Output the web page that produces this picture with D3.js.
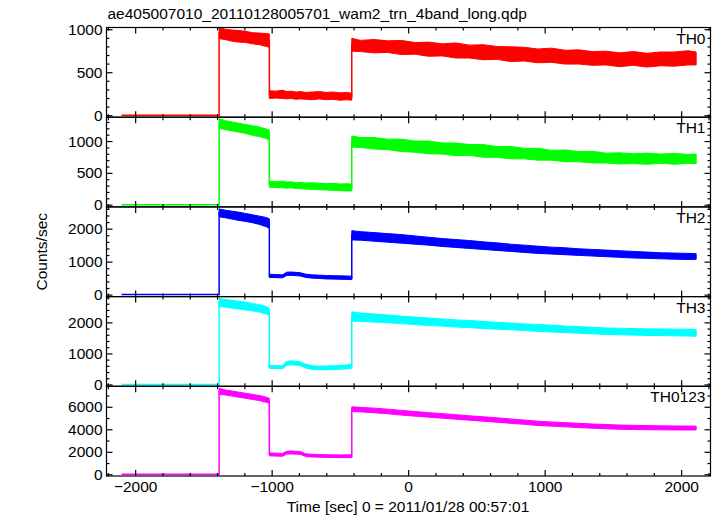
<!DOCTYPE html>
<html><head><meta charset="utf-8">
<script src="https://cdn.jsdelivr.net/npm/d3@7"></script>
<style>body{margin:0;background:#fff} svg{display:block} text{font-family:"Liberation Sans",Arial,Helvetica,sans-serif}</style>
</head><body><svg id="c" width="717" height="516"></svg>
<script>
const title = "ae405007010_20110128005701_wam2_trn_4band_long.qdp";
const xLabel = "Time [sec] 0 = 2011/01/28 00:57:01";
const yLabel = "Counts/sec";
const bandNames = ["TH0","TH1","TH2","TH3","TH0123"];
const bandColors = ["#ff0000","#00ff00","#0000ff","#00ffff","#ff00ff"];
const yDomains = [[-23,1020],[-35,1375],[-60,2660],[-60,2830],[-150,7820]];
const yMajorTicks = [[0,500,1000],[0,500,1000],[0,1000,2000],[0,1000,2000],[0,2000,4000,6000]];
const yMinorSteps = [100,100,200,200,1000];
const xDomain = [-2210, 2215];
const xMajorTicks = [-2000,-1000,0,1000,2000];
const xMinorStep = 200;

// time grid (s)
const tPre = [-2100, -1385];
const preLevel = [0, 0, 0, 0, 0];
const tA = [-1385,-1340,-1290,-1240,-1190,-1140,-1090,-1040,-1017];
const tB = [-1017,-970,-920,-890,-860,-820,-790,-750,-700,-650,-600,-550,-500,-450,-413];
const tC = [-413,-350,-250,-150,-50,50,150,250,350,450,550,650,750,850,950,1050,1150,1250,1350,1450,1550,1650,1750,1850,1950,2050,2110];

// band envelopes (upper / lower), segments A + B + C
const th0Hi = [1020,1000,990,985,975,960,955,950,945,
  285,280,290,275,280,270,275,265,270,275,265,270,260,265,255,
  895,870,880,865,870,845,850,830,840,815,820,800,795,790,770,780,755,760,740,745,725,740,720,735,735,750,735];
const th0Lo = [890,880,860,850,845,830,820,800,790,
  195,200,195,190,195,185,190,185,180,190,180,185,175,180,175,
  745,740,725,730,705,710,685,690,665,665,645,650,625,630,610,615,595,595,580,585,565,580,560,575,570,585,585];
const th1Hi = [1350,1320,1300,1280,1260,1240,1220,1190,1170,
  365,360,370,355,360,345,350,340,345,335,330,335,325,330,320,
  1080,1055,1055,1030,1030,1000,1000,970,970,945,945,915,915,885,885,855,860,835,840,810,815,800,810,795,805,790,795];
const th1Lo = [1200,1180,1160,1140,1120,1090,1070,1040,1015,
  275,270,265,260,265,255,250,245,240,235,230,225,220,215,215,
  905,900,875,865,835,825,800,795,770,775,745,745,720,720,700,700,675,675,655,655,640,645,635,650,635,650,645];
const th2Hi = [2600,2560,2530,2500,2460,2420,2380,2340,2300,
  615,610,600,680,685,675,665,620,600,590,580,575,570,565,560,
  1940,1910,1880,1850,1820,1780,1740,1700,1670,1640,1600,1570,1530,1500,1470,1440,1420,1390,1370,1350,1330,1310,1290,1270,1260,1250,1240];
const th2Lo = [2360,2330,2290,2250,2220,2180,2130,2060,2010,
  520,515,510,580,585,575,565,520,500,490,475,470,465,460,455,
  1660,1650,1620,1590,1560,1530,1500,1460,1430,1400,1370,1340,1310,1280,1250,1230,1210,1190,1170,1150,1130,1110,1100,1085,1075,1065,1070];
const th3Hi = [2770,2740,2710,2680,2650,2610,2570,2510,2450,
  620,610,600,740,760,745,730,650,600,590,595,600,610,630,650,
  2340,2300,2270,2240,2200,2170,2140,2110,2080,2060,2030,2000,1980,1950,1930,1910,1880,1860,1840,1820,1810,1800,1790,1790,1780,1780,1770];
const th3Lo = [2510,2490,2460,2430,2400,2370,2330,2270,2240,
  520,510,505,620,630,620,610,530,480,470,475,480,490,505,520,
  2040,2030,2010,1990,1960,1930,1900,1880,1850,1830,1800,1780,1760,1740,1710,1690,1670,1650,1630,1610,1600,1590,1580,1575,1565,1560,1550];
const th0123Hi = [7650,7500,7400,7300,7200,7100,7000,6850,6750,
  1900,1880,1860,2050,2070,2040,2020,1820,1780,1760,1740,1730,1720,1730,1720,
  6000,5950,5880,5790,5680,5580,5480,5390,5300,5200,5110,5020,4920,4820,4720,4650,4590,4530,4470,4420,4380,4350,4330,4310,4300,4290,4280];
const th0123Lo = [7100,7050,6950,6850,6750,6650,6550,6400,6320,
  1640,1620,1600,1800,1810,1790,1770,1580,1540,1520,1500,1490,1480,1480,1480,
  5580,5550,5470,5380,5260,5170,5080,4990,4900,4810,4720,4630,4530,4440,4340,4280,4220,4150,4100,4040,4000,3980,3960,3950,3940,3935,3940];

const hiArrays = [th0Hi, th1Hi, th2Hi, th3Hi, th0123Hi];
const loArrays = [th0Lo, th1Lo, th2Lo, th3Lo, th0123Lo];

const svg = d3.select("#c");
const L = 106.5, R = 710.5, T = 27.5, B = 476;
const ph = (B - T) / 5;
const x = d3.scaleLinear().domain(xDomain).range([L, R]);
const xMinor = d3.range(-2200, 2201, xMinorStep).filter(v => !xMajorTicks.includes(v));
const FS = 15.5;

svg.append("text").attr("x", L + 1).attr("y", 19).attr("font-size", FS).text(title);

bandNames.forEach((name, i) => {
  const top = T + i * ph, bot = top + ph;
  const y = d3.scaleLinear().domain(yDomains[i]).range([bot, top]);
  const color = bandColors[i];
  const hi = hiArrays[i], lo = loArrays[i];
  const g = svg.append("g");
  const cid = "clip" + i;
  svg.append("clipPath").attr("id", cid).append("rect")
    .attr("x", L).attr("y", top).attr("width", R - L).attr("height", ph);
  const pg = g.append("g").attr("clip-path", `url(#${cid})`);

  const segs = [[tA, 0], [tB, tA.length], [tC, tA.length + tB.length]];
  const area = d3.area().x(d => x(d.t)).y0(d => y(d.lo)).y1(d => y(d.hi));
  const mids = [];
  tPre.forEach(t => mids.push([t, preLevel[i]]));
  segs.forEach(([ts, off]) => {
    const data = ts.map((t, k) => ({t, hi: hi[off + k], lo: lo[off + k]}));
    pg.append("path").datum(data).attr("d", area)
      .attr("fill", color).attr("stroke", color).attr("stroke-width", 1).attr("stroke-linejoin", "miter");
    data.forEach(d => mids.push([d.t, (d.hi + d.lo) / 2]));
  });
  pg.append("path").datum(mids)
    .attr("d", d3.line().x(d => x(d[0])).y(d => y(d[1])))
    .attr("fill", "none").attr("stroke", color).attr("stroke-width", 1.5);

  // frame
  g.append("rect").attr("x", L).attr("y", top).attr("width", R - L).attr("height", ph)
    .attr("fill", "none").attr("stroke", "#000").attr("stroke-width", 1.2);

  const yMin = d3.range(Math.ceil(yDomains[i][0] / yMinorSteps[i]) * yMinorSteps[i], yDomains[i][1], yMinorSteps[i])
    .filter(v => !yMajorTicks[i].includes(v));

  const styleAxis = sel => {
    sel.select(".domain").remove();
    sel.selectAll("line").attr("stroke", "#000").attr("stroke-width", 1.2);
    sel.selectAll("text").attr("font-size", FS).attr("fill", "#000")
      .attr("font-family", '"Liberation Sans",Arial,sans-serif');
  };
  const showX = i === 4;
  g.append("g").attr("transform", `translate(0,${bot})`)
    .call(d3.axisBottom(x).tickValues(xMajorTicks).tickSize(-6).tickSizeOuter(0).tickPadding(5)
      .tickFormat(showX ? d3.format("d") : () => "")).call(styleAxis);
  g.append("g").attr("transform", `translate(0,${bot})`)
    .call(d3.axisBottom(x).tickValues(xMinor).tickSize(-3).tickSizeOuter(0).tickFormat(() => "")).call(styleAxis);
  g.append("g").attr("transform", `translate(0,${top})`)
    .call(d3.axisTop(x).tickValues(xMajorTicks).tickSize(-6).tickSizeOuter(0).tickFormat(() => "")).call(styleAxis);
  g.append("g").attr("transform", `translate(0,${top})`)
    .call(d3.axisTop(x).tickValues(xMinor).tickSize(-3).tickSizeOuter(0).tickFormat(() => "")).call(styleAxis);
  g.append("g").attr("transform", `translate(${L},0)`)
    .call(d3.axisLeft(y).tickValues(yMajorTicks[i]).tickSize(-6).tickSizeOuter(0).tickPadding(4)
      .tickFormat(d3.format("d"))).call(styleAxis);
  g.append("g").attr("transform", `translate(${L},0)`)
    .call(d3.axisLeft(y).tickValues(yMin).tickSize(-3).tickSizeOuter(0).tickFormat(() => "")).call(styleAxis);
  g.append("g").attr("transform", `translate(${R},0)`)
    .call(d3.axisRight(y).tickValues(yMajorTicks[i]).tickSize(-6).tickSizeOuter(0).tickFormat(() => "")).call(styleAxis);
  g.append("g").attr("transform", `translate(${R},0)`)
    .call(d3.axisRight(y).tickValues(yMin).tickSize(-3).tickSizeOuter(0).tickFormat(() => "")).call(styleAxis);

  g.append("text").attr("x", R - 5).attr("y", top + 16).attr("text-anchor", "end")
    .attr("font-size", FS).text(name);
});

svg.append("text").attr("x", 408).attr("y", 512).attr("text-anchor", "middle")
  .attr("font-size", FS).text(xLabel);
svg.append("text").attr("transform", `translate(47,${(T + B) / 2}) rotate(-90)`)
  .attr("text-anchor", "middle").attr("font-size", FS).text(yLabel);
</script></body></html>
